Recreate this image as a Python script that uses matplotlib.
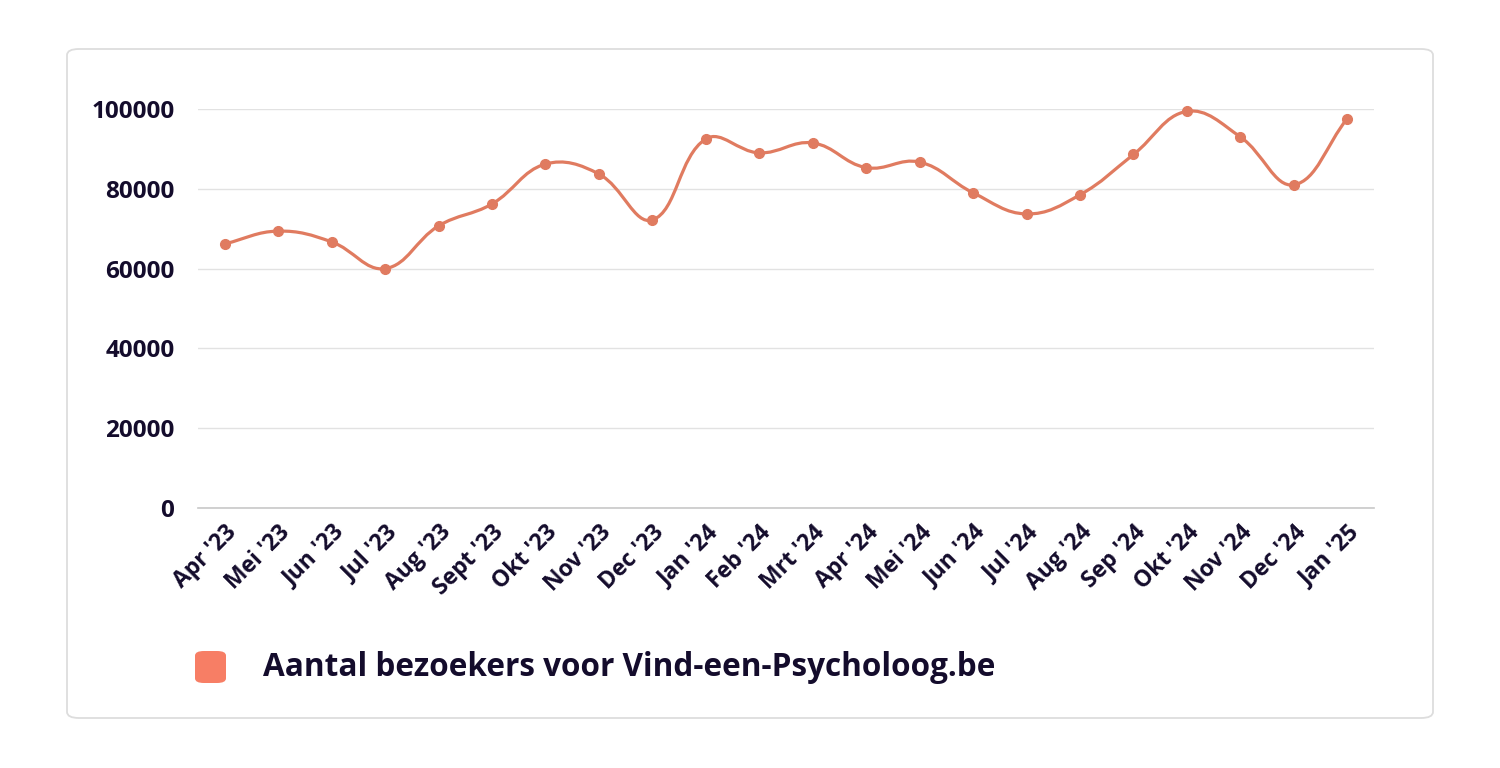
import numpy as np
import matplotlib
matplotlib.use("Agg")
import matplotlib.pyplot as plt
from matplotlib.path import Path
from matplotlib.patches import PathPatch, FancyBboxPatch

# Data
months = ["Apr '23", "Mei '23", "Jun '23", "Jul '23", "Aug '23", "Sept '23", "Okt '23",
          "Nov '23", "Dec '23", "Jan '24", "Feb '24", "Mrt '24", "Apr '24", "Mei '24",
          "Jun '24", "Jul '24", "Aug '24", "Sep '24", "Okt '24", "Nov '24", "Dec '24",
          "Jan '25"]
visitors = [66200, 69400, 66700, 60000, 70700, 76200, 86200, 83700, 72200, 92500, 89000,
            91500, 85300, 86700, 79000, 73700, 78500, 88600, 99400, 93000, 81000, 97600]
yticks = [0, 20000, 40000, 60000, 80000, 100000]
series_name = "Aantal bezoekers voor Vind-een-Psycholoog.be"

TEXT = "#140c2c"
LINE = "#e07b60"
LEGEND = "#f77e65"
W, H = 1500, 768

fig = plt.figure(figsize=(W / 100, H / 100), dpi=100)
fig.patch.set_facecolor("white")

# card
card = FancyBboxPatch((67 / W, (H - 718) / H), (1433 - 67) / W, (718 - 49) / H,
                      boxstyle="round,pad=0,rounding_size=0.008",
                      transform=fig.transFigure, facecolor="white",
                      edgecolor="#dddddd", linewidth=1.3, zorder=-10)
fig.patches.append(card)

ax = fig.add_axes([198 / W, (H - 508) / H, (1374 - 198) / W, (508 - 109) / H])
ax.set_facecolor("none")
x = np.arange(len(months))
ax.set_xlim(-0.5, len(months) - 0.5)
ax.set_ylim(0, 100000)

# smooth curve (Chart.js style bezier, tension 0.4), computed in pixel space
sx = (1374 - 198) / len(months)
sy = (508 - 109) / 100000
px = x * sx
py = np.array(visitors) * sy
t = 0.4
verts = [(px[0], py[0])]
codes = [Path.MOVETO]
cps = []
for i in range(len(px)):
    p0 = (px[max(i - 1, 0)], py[max(i - 1, 0)])
    p1 = (px[i], py[i])
    p2 = (px[min(i + 1, len(px) - 1)], py[min(i + 1, len(px) - 1)])
    d01 = np.hypot(p1[0] - p0[0], p1[1] - p0[1])
    d12 = np.hypot(p2[0] - p1[0], p2[1] - p1[1])
    s01 = d01 / (d01 + d12) if d01 + d12 else 0
    s12 = d12 / (d01 + d12) if d01 + d12 else 0
    fa, fb = t * s01, t * s12
    cp_prev = (p1[0] - fa * (p2[0] - p0[0]), p1[1] - fa * (p2[1] - p0[1]))
    cp_next = (p1[0] + fb * (p2[0] - p0[0]), p1[1] + fb * (p2[1] - p0[1]))
    cps.append((cp_prev, cp_next))
for i in range(1, len(px)):
    verts += [cps[i - 1][1], cps[i][0], (px[i], py[i])]
    codes += [Path.CURVE4] * 3
verts = [(vx / sx, vy / sy) for vx, vy in verts]
ax.add_patch(PathPatch(Path(verts, codes), facecolor="none", edgecolor=LINE,
                       linewidth=2.3, zorder=3, clip_on=False))
ax.plot(x, visitors, "o", color=LINE, markersize=7, zorder=4, clip_on=False)

# axes styling
for s in ["top", "right", "left"]:
    ax.spines[s].set_visible(False)
ax.spines["bottom"].set_color("#c8c8c8")
ax.spines["bottom"].set_linewidth(1.2)
ax.set_yticks(yticks)
ax.set_yticklabels([str(v) for v in yticks])
ax.yaxis.grid(True, color="#e2e2e2", linewidth=1)
ax.set_axisbelow(True)
ax.tick_params(axis="y", length=0, pad=17, labelsize=17.5, labelcolor=TEXT)
ax.tick_params(axis="x", length=0, pad=9, labelsize=16.5, labelcolor=TEXT)
ax.set_xticks(x)
ax.set_xticklabels(months, rotation=45, ha="right", va="top", rotation_mode="anchor")
for lab in ax.get_xticklabels() + ax.get_yticklabels():
    lab.set_fontfamily("Open Sans")
    lab.set_fontweight("bold")

# legend
sq = FancyBboxPatch((195 / W, (H - 683) / H), 31 / W, 32 / H,
                    boxstyle="round,pad=0,rounding_size=0.006",
                    transform=fig.transFigure, facecolor=LEGEND, edgecolor="none")
fig.patches.append(sq)
fig.text(263 / W, (H - 667) / H, series_name, fontsize=22.7, fontweight="bold",
         fontfamily="Open Sans", color=TEXT, va="center", ha="left")

fig.savefig("out.png", dpi=100, facecolor="white")
